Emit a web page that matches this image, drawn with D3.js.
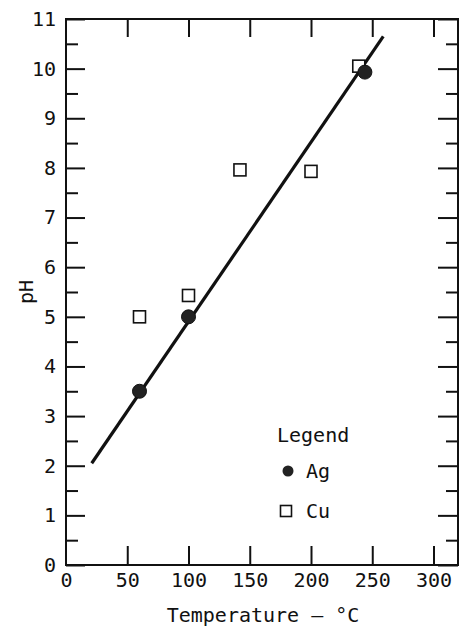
<!DOCTYPE html>
<html>
<head>
<meta charset="utf-8">
<script src="https://cdn.jsdelivr.net/npm/d3@7"></script>
<style>
  body { margin: 0; background: #fff; }
  svg text { font-family: "DejaVu Sans Mono", monospace; fill: #111; }
</style>
</head>
<body>
<figure id="chart" style="margin:0"></figure>
<script>
// pH vs temperature
const agTemps = [60, 100, 244];
const agPH = [3.5, 5.0, 9.93];
const cuTemps = [60, 100, 142, 200, 239];
const cuPH = [5.0, 5.43, 7.96, 7.93, 10.05];
const fitTemps = [21, 259];
const fitPH = [2.05, 10.65];
const xTicks = [0, 50, 100, 150, 200, 250, 300];
const yTicks = [0, 1, 2, 3, 4, 5, 6, 7, 8, 9, 10, 11];
const yMinorTicks = [0.5, 1.5, 2.5, 3.5, 4.5, 5.5, 6.5, 7.5, 8.5, 9.5, 10.5];

const width = 462, height = 628;
const plotLeft = 66, plotRight = 458, plotTop = 19, plotBottom = 565;

const svg = d3.select("#chart")
  .append("svg")
  .attr("width", width)
  .attr("height", height);

const x = d3.scaleLinear().domain([0, 320]).range([plotLeft, plotRight]);
const y = d3.scaleLinear().domain([0, 11]).range([plotBottom, plotTop]);

// frame
svg.append("rect")
  .attr("x", plotLeft).attr("y", plotTop)
  .attr("width", plotRight - plotLeft).attr("height", plotBottom - plotTop)
  .attr("fill", "none").attr("stroke", "#111").attr("stroke-width", 2);

function styleAxis(g) {
  g.select(".domain").remove();
  g.selectAll("line").attr("stroke", "#111").attr("stroke-width", 2);
  g.selectAll("text").style("font-size", "20px").attr("fill", "#111");
}

// bottom axis with labels
svg.append("g")
  .attr("transform", "translate(0," + plotBottom + ")")
  .call(d3.axisBottom(x).tickValues(xTicks).tickSize(-19).tickPadding(8))
  .call(styleAxis)
  .call(g => g.selectAll(".tick").filter(d => d === 0).select("line").remove());

// top axis (ticks only)
svg.append("g")
  .attr("transform", "translate(0," + plotTop + ")")
  .call(d3.axisTop(x).tickValues(xTicks.filter(d => d > 0)).tickSize(-18).tickFormat(""))
  .call(styleAxis);

// left axis
svg.append("g")
  .attr("transform", "translate(" + plotLeft + ",0)")
  .call(d3.axisLeft(y).tickValues(yTicks).tickSize(-19).tickPadding(10))
  .call(styleAxis);
svg.append("g")
  .attr("transform", "translate(" + plotLeft + ",0)")
  .call(d3.axisLeft(y).tickValues(yMinorTicks).tickSize(-12).tickFormat(""))
  .call(styleAxis);

// right axis
svg.append("g")
  .attr("transform", "translate(" + plotRight + ",0)")
  .call(d3.axisRight(y).tickValues(yTicks).tickSize(-20).tickFormat(""))
  .call(styleAxis);
svg.append("g")
  .attr("transform", "translate(" + plotRight + ",0)")
  .call(d3.axisRight(y).tickValues(yMinorTicks).tickSize(-12).tickFormat(""))
  .call(styleAxis);

// axis titles
svg.append("text")
  .attr("x", 263).attr("y", 622)
  .attr("text-anchor", "middle")
  .style("font-size", "20px")
  .text("Temperature \u2014 \u00B0C");

svg.append("text")
  .attr("transform", "translate(33,292) rotate(-90)")
  .attr("text-anchor", "middle")
  .style("font-size", "20px")
  .text("pH");

// fit line
const line = d3.line().x(d => x(d[0])).y(d => y(d[1]));
svg.append("path")
  .datum(d3.zip(fitTemps, fitPH))
  .attr("d", line)
  .attr("fill", "none")
  .attr("stroke", "#111")
  .attr("stroke-width", 3.2);

// Cu squares
const sq = 12;
svg.selectAll(".cu")
  .data(d3.zip(cuTemps, cuPH))
  .enter()
  .append("rect")
  .attr("class", "cu")
  .attr("x", d => x(d[0]) - sq / 2)
  .attr("y", d => y(d[1]) - sq / 2)
  .attr("width", sq).attr("height", sq)
  .attr("fill", "#fff")
  .attr("stroke", "#111")
  .attr("stroke-width", 1.6);

// Ag circles
svg.selectAll(".ag")
  .data(d3.zip(agTemps, agPH))
  .enter()
  .append("circle")
  .attr("class", "ag")
  .attr("cx", d => x(d[0]))
  .attr("cy", d => y(d[1]))
  .attr("r", 7)
  .attr("fill", "#222")
  .attr("stroke", "#111")
  .attr("stroke-width", 1);

// legend
const legend = svg.append("g");
legend.append("text")
  .attr("x", 277).attr("y", 442)
  .style("font-size", "20px")
  .text("Legend");
legend.append("circle")
  .attr("cx", 288).attr("cy", 471).attr("r", 5.5)
  .attr("fill", "#222");
legend.append("text")
  .attr("x", 306).attr("y", 478)
  .style("font-size", "20px")
  .text("Ag");
legend.append("rect")
  .attr("x", 280.5).attr("y", 505.5).attr("width", 11).attr("height", 11)
  .attr("fill", "#fff").attr("stroke", "#111").attr("stroke-width", 1.6);
legend.append("text")
  .attr("x", 306).attr("y", 518)
  .style("font-size", "20px")
  .text("Cu");
</script>
</body>
</html>
